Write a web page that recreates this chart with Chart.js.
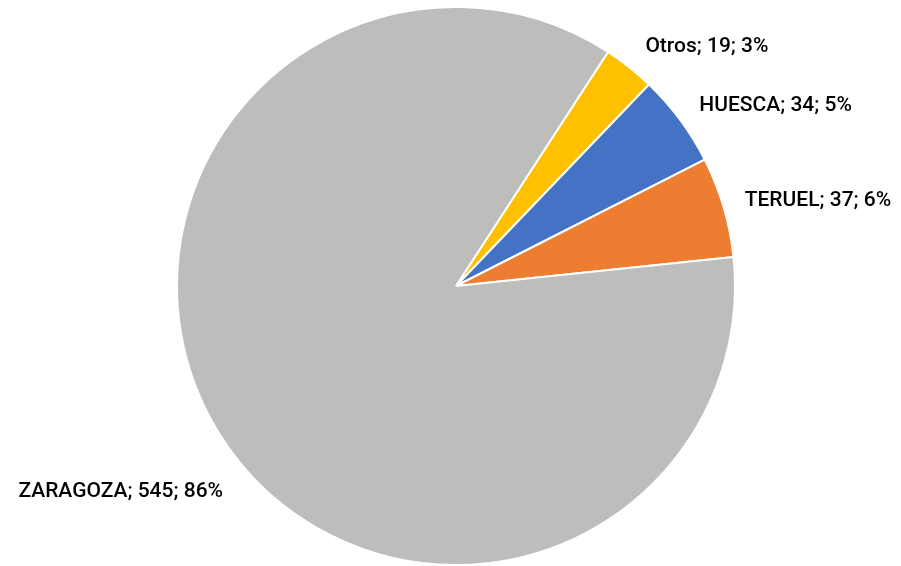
<!DOCTYPE html>
<html>
<head>
<meta charset="UTF-8" />
<script src="https://cdn.jsdelivr.net/npm/chart.js"></script>
<title>Pie</title>
<style>
  html, body { margin: 0; padding: 0; background: #fff; }
  #wrap { width: 901px; height: 566px; }
</style>
</head>
<body>
<div id="wrap"><canvas id="pie"></canvas></div>
<script>
    var labels = ['Otros', 'HUESCA', 'TERUEL', 'ZARAGOZA'];
    var values = [19, 34, 37, 545];
    var percents = ['3%', '5%', '6%', '86%'];
    var colors = ['#FFC000', '#4472C4', '#ED7D31', '#BDBDBB'];

    // label placement: extra distance from the rim and angle nudge (deg)
    var labelGap = [26, 24, 22, 32];
    var labelNudge = [0, 0, 0, -10];

    var outsideLabels = {
        id: 'outsideLabels',
        afterDatasetsDraw: function (chart) {
            var ctx = chart.ctx;
            var meta = chart.getDatasetMeta(0);
            ctx.save();
            ctx.font = '500 21px Roboto, "DejaVu Sans", sans-serif';
            ctx.fillStyle = '#000';
            ctx.textBaseline = 'middle';
            meta.data.forEach(function (arc, i) {
                var p = arc.getProps(['x', 'y', 'startAngle', 'endAngle', 'outerRadius'], true);
                var mid = (p.startAngle + p.endAngle) / 2 + labelNudge[i] * Math.PI / 180;
                var d = p.outerRadius + labelGap[i];
                var tx = p.x + Math.cos(mid) * d;
                var ty = p.y + Math.sin(mid) * d;
                ctx.textAlign = Math.cos(mid) >= 0 ? 'left' : 'right';
                ctx.fillText(labels[i] + '; ' + values[i] + '; ' + percents[i], tx, ty);
            });
            ctx.restore();
        }
    };

    new Chart(document.getElementById('pie'), {
        type: 'pie',
        data: {
            labels: labels,
            datasets: [{
                data: values,
                backgroundColor: colors,
                borderColor: '#ffffff',
                borderWidth: 2
            }]
        },
        options: {
            responsive: true,
            maintainAspectRatio: false,
            animation: false,
            rotation: 33,
            layout: { padding: { left: 11, right: 0, top: 6, bottom: 0 } },
            plugins: {
                legend: { display: false },
                tooltip: { enabled: false }
            }
        },
        plugins: [outsideLabels]
    });
</script>
</body>
</html>
